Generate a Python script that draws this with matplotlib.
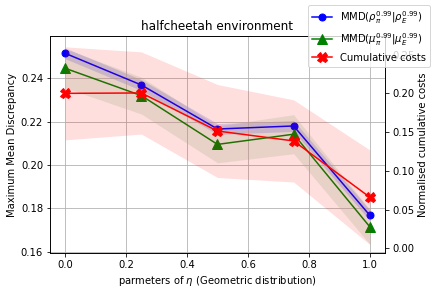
import matplotlib
matplotlib.use("Agg")
import matplotlib.pyplot as plt
import numpy as np

eta = [0.0, 0.25, 0.5, 0.75, 1.0]
mmd_rho = [0.2515, 0.2369, 0.2166, 0.2180, 0.1768]
mmd_rho_std = [0.0025, 0.0025, 0.0025, 0.0025, 0.0025]
mmd_mu = [0.2446, 0.2320, 0.2095, 0.2142, 0.1715]
mmd_mu_std = [0.0090, 0.0085, 0.0085, 0.0090, 0.0080]
costs = [0.2000, 0.2005, 0.1514, 0.1386, 0.0660]
costs_std = [0.0600, 0.0530, 0.0600, 0.0530, 0.0610]

W, H = 435, 296
fig = plt.figure(figsize=(W / 72, H / 72), dpi=72)
ax1 = fig.add_axes([50 / W, 1 - 253 / H, (385 - 50) / W, (253 - 36) / H])
ax2 = ax1.twinx()

x = np.array(eta)
r = np.array(mmd_rho); rs = np.array(mmd_rho_std)
m = np.array(mmd_mu); ms = np.array(mmd_mu_std)
c = np.array(costs); cs = np.array(costs_std)

l1, = ax1.plot(x, r, color='blue', marker='o', markersize=7, label=r'MMD($\rho_\pi^{0.99}|\rho_E^{0.99}$)')
ax1.fill_between(x, r - rs, r + rs, color='blue', alpha=0.15, linewidth=0)
l2, = ax1.plot(x, m, color='green', marker='^', markersize=10, label=r'MMD($\mu_\pi^{0.99}|\mu_E^{0.99}$)')
ax1.fill_between(x, m - ms, m + ms, color='green', alpha=0.1, linewidth=0)
l3, = ax2.plot(x, c, color='red', marker='X', markersize=10, label='Cumulative costs')
ax2.fill_between(x, c - cs, c + cs, color='red', alpha=0.13, linewidth=0)

ax1.set_xlim(-0.05, 1.05)
ax1.set_ylim(0.1594, 0.2595)
ax2.set_ylim(-0.006, 0.274)
ax1.set_yticks([0.16, 0.18, 0.20, 0.22, 0.24])
ax2.set_yticks([0.00, 0.05, 0.10, 0.15, 0.20, 0.25])
ax1.grid(True)

ax1.set_xlabel(r'parmeters of $\eta$ (Geometric distribution)')
ax1.set_ylabel('Maximum Mean Discrepancy')
ax2.set_ylabel('Normalised cumulative costs')
ax1.set_title('halfcheetah environment', fontsize=12)

fig.legend(handles=[l1, l2, l3], loc='upper right')

fig.savefig('out.png', dpi=72)
